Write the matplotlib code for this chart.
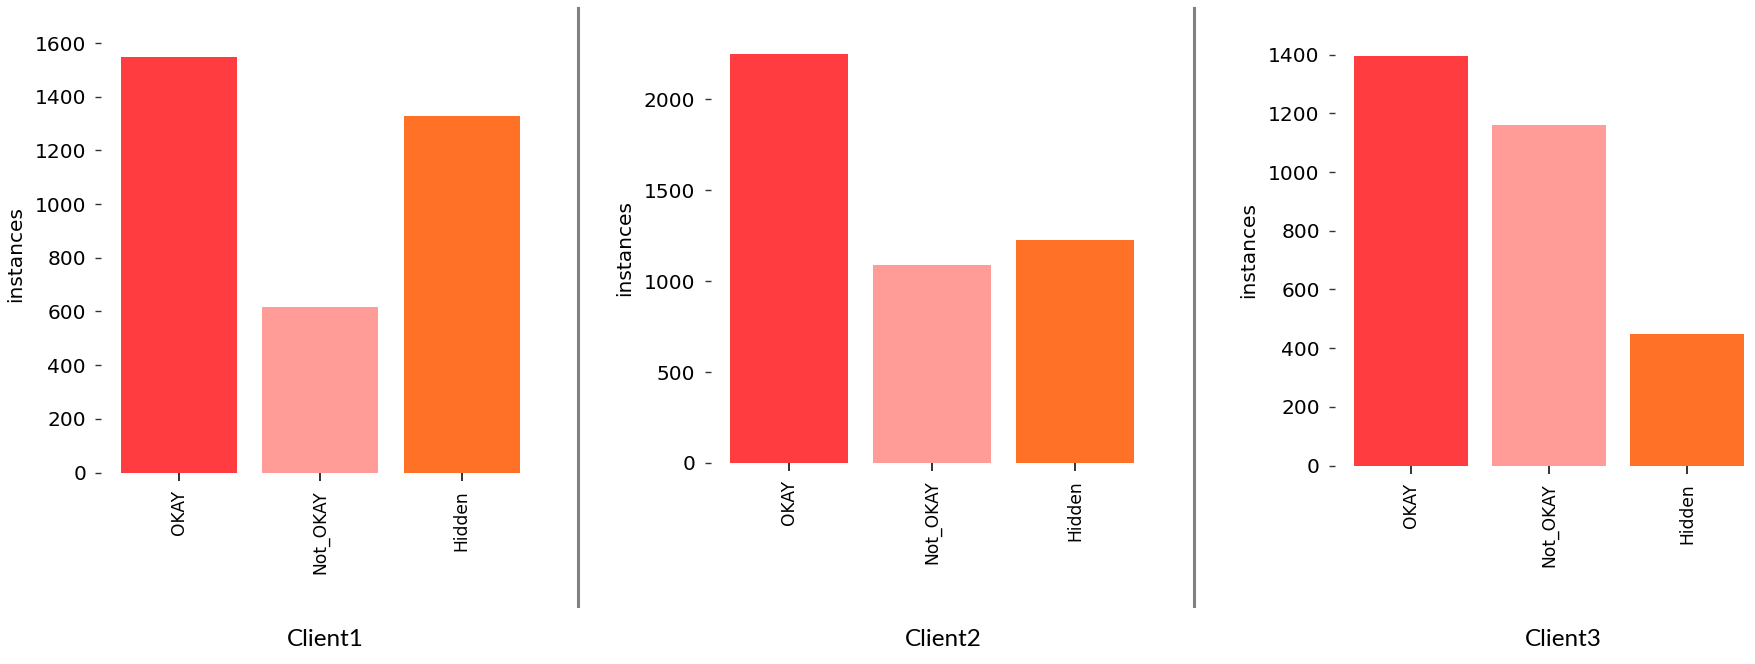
import matplotlib
matplotlib.use('Agg')
import matplotlib.pyplot as plt
from matplotlib.lines import Line2D

categories = ['OKAY', 'Not_OKAY', 'Hidden']
clients = ['Client1', 'Client2', 'Client3']
client1 = [1549, 615, 1329]
client2 = [2249, 1089, 1227]
client3 = [1397, 1160, 447]
bar_colors = ['#FF3C3F', '#FF9C98', '#FF7126']

W, H = 1756, 664
fig = plt.figure(figsize=(W / 100, H / 100), dpi=100)

# axes boxes in pixels: left, right, bottom (y from top), top
boxes = [(108.3, 532.4, 472.5, 36), (717.5, 1146.5, 463, 33.5), (1342, 1756, 465.5, 35)]
label_x = [325, 943.5, 1563]

for vals, box, name, lx in zip([client1, client2, client3], boxes, clients, label_x):
    l, r, b, t = box
    ax = fig.add_axes([l / W, (H - b) / H, (r - l) / W, (b - t) / H])
    ax.bar(range(len(categories)), vals, width=0.82, color=bar_colors)
    ax.set_xlim(-0.5, 2.5)
    for s in ax.spines.values():
        s.set_visible(False)
    # ticks sit a little away from the bars, like an offset spine
    ax.spines['left'].set_position(('outward', 5))
    ax.set_xticks(range(len(categories)))
    ax.set_xticklabels(categories, rotation=90, fontsize=12.3)
    ax.tick_params(axis='y', labelsize=14.5, length=4, width=1, pad=7, color='#333333')
    ax.tick_params(axis='x', length=5.5, width=1.4, pad=7, color='#333333')
    ax.set_ylabel('instances', fontsize=14.5, labelpad=7)
    fig.text(lx / W, (H - 640) / H, name, ha='center', va='center',
             fontsize=17.5, family=['Lato', 'DejaVu Sans'])

# grey separators between the clients
for xs in [578.3, 1193.8]:
    fig.add_artist(Line2D([xs / W, xs / W], [(H - 7.7) / H, (H - 606.4) / H],
                          color='#808080', lw=2.2))

fig.savefig('out.png', dpi=100, facecolor='white')
